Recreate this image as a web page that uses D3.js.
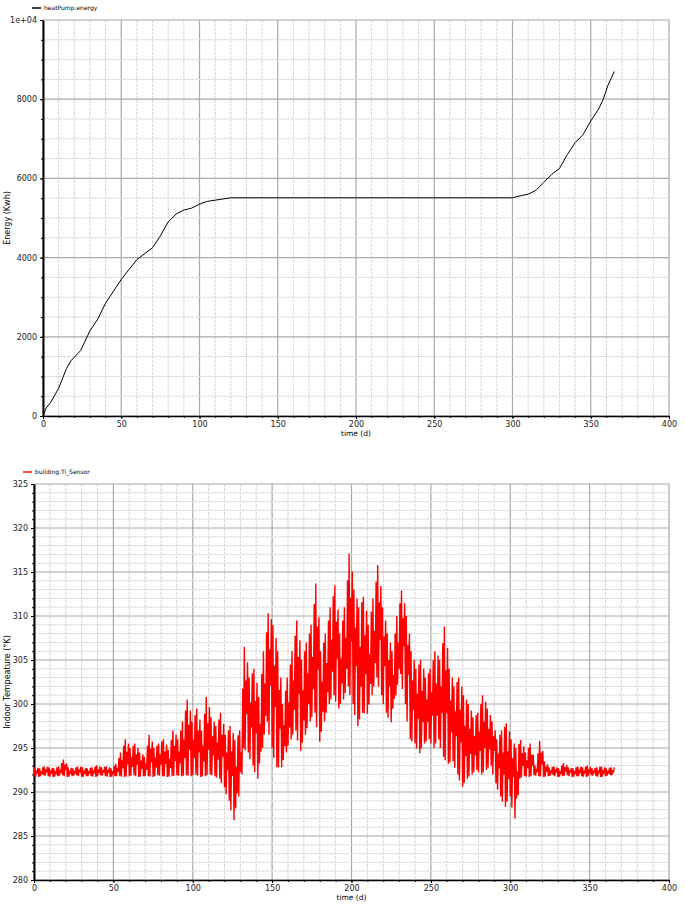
<!DOCTYPE html>
<html><head><meta charset="utf-8">
<script src="https://cdn.jsdelivr.net/npm/d3@7"></script>
<style>body{margin:0;background:#fff}svg{font-family:"DejaVu Sans",sans-serif}</style>
</head><body><svg id="c" width="685" height="908"></svg>
<script>
const energyDays=[0,2,5,10,15,18,24,30,35,40,45,50,55,60,65,70,75,80,85,90,95,100,105,110,115,120,300,305,310,315,320,325,330,335,340,345,350,355,358,361,365];
const energyVals=[0,200,350,700,1200,1400,1650,2150,2450,2850,3150,3450,3700,3950,4100,4250,4550,4900,5100,5200,5250,5350,5420,5450,5480,5510,5510,5560,5600,5700,5900,6100,6250,6600,6900,7100,7450,7750,8000,8350,8700];
const tempDays=d3.range(0,364,3);
const tempHi=[292.8,292.7,292.9,292.8,292.7,292.9,293.7,292.8,292.7,292.9,292.8,292.7,292.8,293.0,292.8,292.9,292.7,293.2,294.5,296.0,295.0,295.5,294.5,294.0,296.5,295.0,295.5,296.0,294.8,297.0,296.0,298.0,
300.5,298,299.5,297,300.8,298.5,297.5,299,296.5,297.5,
295.9,297,306.5,303,304,300.8,306,310.3,309,306,
300,303,306,309.5,305,307,309,313.7,306,308,
311,313.5,308,311,317.1,313,311,312.2,309,312,
315.8,311,308,306,310,312.9,310,306,304,305,
303,304,306,305,308.8,304,302,303,301,300,
298.5,299,301,299.5,298,296,297,297.8,296,295,
295.9,294.5,295.5,293,295.8,293.5,292.8,292.9,292.7,293.3,292.8,292.7,292.9,292.8,293.0,292.7,292.8,292.9,292.7,292.8];
const tempLo=[291.8,291.7,291.9,291.8,291.7,291.8,291.9,291.7,291.8,291.9,291.7,291.8,291.8,291.7,291.9,291.8,291.7,291.8,291.8,291.7,291.8,291.9,291.7,291.8,291.8,291.7,291.9,291.8,291.7,291.8,291.9,291.8,
291.9,291.8,292,291.7,291.8,292,291.8,291.5,290.5,289,
286.8,289.5,295,294.5,293,291.5,295,298,295,292.8,
292.8,294.5,296,297,294.7,296.5,298,299,295.7,298,
300,301,299.5,300.5,302,300,297.5,299,298.9,301,
303,301,299,297.9,301,303.4,300,296,295.5,294.4,
295.5,296,295,296,294,293.2,293.5,292,290.6,291.5,
292,292.5,292,292.5,293,291,289.5,288.3,289.5,287,
291.5,291.8,291.7,291.9,291.8,291.7,291.8,291.9,291.7,291.8,291.9,291.7,291.8,291.8,291.7,291.9,291.8,291.7,291.8,291.9];
const xTicks=[0,50,100,150,200,250,300,350,400];
const energyTicks=[0,2000,4000,6000,8000,10000];
const energyTickLabels=["0","2000","4000","6000","8000","1e+04"];
const tempTicks=[280,285,290,295,300,305,310,315,320,325];

const svg=d3.select("#c");
function panel(o){
  const g=svg.append("g");
  const x=d3.scaleLinear().domain([0,400]).range([o.l,o.r]);
  const y=d3.scaleLinear().domain(o.yd).range([o.b,o.t]);
  d3.range(0,401,10).forEach(v=>{const major=v%50===0;
    g.append("line").attr("x1",x(v)).attr("x2",x(v)).attr("y1",o.t).attr("y2",o.b)
     .attr("stroke",major?"#a8a8a8":"#d6d6d6").attr("stroke-width",major?1.2:1).attr("stroke-dasharray",major?null:"3,1");});
  d3.range(o.yd[0],o.yd[1]+1e-9,o.minor).forEach(v=>{const major=Math.abs(v/o.major-Math.round(v/o.major))<1e-6;
    g.append("line").attr("y1",y(v)).attr("y2",y(v)).attr("x1",o.l).attr("x2",o.r)
     .attr("stroke",major?"#a8a8a8":"#d6d6d6").attr("stroke-width",major?1.2:1).attr("stroke-dasharray",major?null:"3,1");});
  const xa=g.append("g").attr("transform",`translate(0,${o.b})`)
    .call(d3.axisBottom(x).tickValues(xTicks).tickSize(3).tickSizeOuter(0));
  g.append("g").attr("transform",`translate(0,${o.b})`)
    .call(d3.axisBottom(x).tickValues(d3.range(0,401,10)).tickSize(2).tickFormat("")).select(".domain").remove();
  const ya=g.append("g").attr("transform",`translate(${o.l},0)`)
    .call(d3.axisLeft(y).tickValues(o.ticks).tickFormat((d,i)=>o.labels?o.labels[i]:d).tickSize(3).tickSizeOuter(0));
  g.append("g").attr("transform",`translate(${o.l},0)`)
    .call(d3.axisLeft(y).tickValues(d3.range(o.yd[0],o.yd[1]+1e-9,o.minor)).tickSize(2).tickFormat("")).select(".domain").remove();
  g.selectAll(".tick text").attr("font-size",8).attr("fill","#222").attr("font-family","DejaVu Sans");
  xa.selectAll(".tick text").attr("dy","0.6em");
  xa.select(".domain").attr("stroke","#000").attr("stroke-width",1.5);
  ya.select(".domain").attr("stroke","#000").attr("stroke-width",2);
  g.append("text").attr("x",(o.l+o.r)/2).attr("y",o.b+19.5).attr("text-anchor","middle").attr("font-size",7.5).text("time (d)");
  g.append("text").attr("transform",`translate(${o.yl},${(o.t+o.b)/2}) rotate(-90)`).attr("text-anchor","middle").attr("font-size",8).text(o.ylabel);
  g.append("line").attr("x1",o.l-11).attr("x2",o.l-2).attr("y1",o.t-12).attr("y2",o.t-12).attr("stroke",o.color).attr("stroke-width",1.5);
  g.append("text").attr("x",o.l+1).attr("y",o.t-10).attr("font-size",6).text(o.legend);
  return {g,x,y};
}
const p1=panel({l:43,r:669,t:20,b:416,yd:[0,10000],minor:500,major:2000,ticks:energyTicks,labels:energyTickLabels,ylabel:"Energy (Kwh)",yl:10,color:"#000",legend:"heatPump.energy"});
p1.g.append("path").datum(energyDays.map((d,i)=>[d,energyVals[i]]))
  .attr("fill","none").attr("stroke","#000").attr("stroke-width",1)
  .attr("d",d3.line().x(d=>p1.x(d[0])).y(d=>p1.y(d[1])));
const p2=panel({l:34,r:669,t:484,b:880,yd:[280,325],minor:1,major:5,ticks:tempTicks,ylabel:"Indoor Tempeature (°K)",yl:10,color:"#ff0000",legend:"building.Ti_Sensor"});
// daily swings within each 3-day block, bounded by the block's read low/high
const pts=[];
tempDays.forEach((d,i)=>{
  const lo=tempLo[i],hi=tempHi[i];
  const nlo=i+1<tempLo.length?tempLo[i+1]:lo, nhi=i+1<tempHi.length?tempHi[i+1]:hi;
  pts.push([d,lo]);pts.push([d+0.5,hi]);
  pts.push([d+1,(lo+nlo)/2]);pts.push([d+1.5,(hi*2+lo)/3]);
  pts.push([d+2,(lo*2+hi)/3]);pts.push([d+2.5,(hi+nhi)/2]);
});
p2.g.append("path").datum(pts).attr("fill","none").attr("stroke","#ff0000").attr("stroke-width",1.4)
  .attr("d",d3.line().x(d=>p2.x(d[0])).y(d=>p2.y(d[1])));
</script></body></html>
